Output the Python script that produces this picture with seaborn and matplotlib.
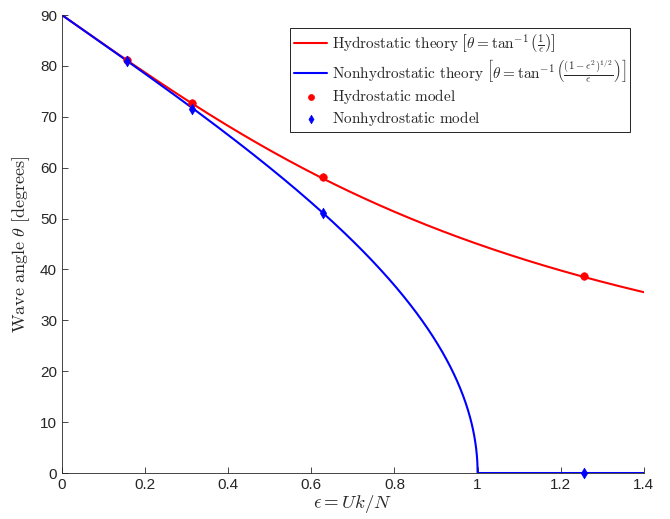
import numpy as np
import pandas as pd
import matplotlib
matplotlib.use('Agg')
import matplotlib.pyplot as plt
import seaborn as sns

# model runs
eps_model = [0.157, 0.314, 0.628, 1.257]
theta_hydro_model = [81.1, 72.7, 58.1, 38.8]
theta_nonhydro_model = [80.9, 71.6, 51.1, 0.0]

# theory curves from the formulas in the legend
eps = np.concatenate([np.linspace(0, 1, 2001), np.linspace(1, 1.4, 401)[1:]])
theta_hydro = np.degrees(np.arctan2(1.0, eps))
theta_nonhydro = np.degrees(np.arctan2(np.sqrt(np.clip(1 - eps**2, 0, None)), eps))
theta_nonhydro[eps >= 1] = 0.0

sns.set_style('ticks')
plt.rcParams['font.family'] = ['Liberation Sans', 'DejaVu Sans']
plt.rcParams['mathtext.fontset'] = 'cm'
plt.rcParams['xtick.direction'] = 'in'
plt.rcParams['ytick.direction'] = 'in'

fig, ax = plt.subplots(figsize=(6.7, 5.19), dpi=100)
fig.subplots_adjust(left=0.0925, right=0.961, top=0.971, bottom=0.0886)

lab_h = r'$\mathrm{Hydrostatic\ theory}\ \left[\theta=\tan^{-1}\left(\frac{1}{\epsilon}\right)\right]$'
lab_nh = r'$\mathrm{Nonhydrostatic\ theory}\ \left[\theta=\tan^{-1}\left(\frac{(1-\epsilon^2)^{1/2}}{\epsilon}\right)\right]$'

sns.lineplot(x=eps, y=theta_hydro, color='red', lw=1.5, label=lab_h, ax=ax, sort=False)
sns.lineplot(x=eps, y=theta_nonhydro, color='blue', lw=1.5, label=lab_nh, ax=ax, sort=False)
sns.scatterplot(x=eps_model, y=theta_hydro_model, color='red', marker='o', s=30,
                edgecolor='red', label=r'$\mathrm{Hydrostatic\ model}$', ax=ax,
                zorder=5, clip_on=False)
sns.scatterplot(x=eps_model, y=theta_nonhydro_model, color='blue', marker='d', s=30,
                edgecolor='blue', label=r'$\mathrm{Nonhydrostatic\ model}$', ax=ax,
                zorder=5, clip_on=False)

ax.set_xlim(0, 1.4)
ax.set_ylim(0, 90)
ax.set_xticks([0, 0.2, 0.4, 0.6, 0.8, 1, 1.2, 1.4])
ax.set_xticklabels(['0', '0.2', '0.4', '0.6', '0.8', '1', '1.2', '1.4'])
ax.set_yticks(range(0, 91, 10))
ax.tick_params(labelsize=11, length=4, width=0.6, colors='#262626')
for s in ['left', 'bottom']:
    ax.spines[s].set_linewidth(0.6)
    ax.spines[s].set_color('#262626')
sns.despine(ax=ax)

ax.set_xlabel(r'$\epsilon = Uk/N$', fontsize=13.5, labelpad=1)
ax.set_ylabel(r'$\mathrm{Wave\ angle}\ \theta\ [\mathrm{degrees}]$', fontsize=13, labelpad=6)

leg = ax.legend(loc='upper right', bbox_to_anchor=(0.976, 0.972), borderaxespad=0,
                fontsize=11, frameon=True, fancybox=False, edgecolor='black',
                framealpha=1, handlelength=2.2, handletextpad=0.3, borderpad=0.25,
                labelspacing=0.2, markerscale=0.8)
leg.get_frame().set_linewidth(0.6)

fig.savefig('out.png', dpi=100)
